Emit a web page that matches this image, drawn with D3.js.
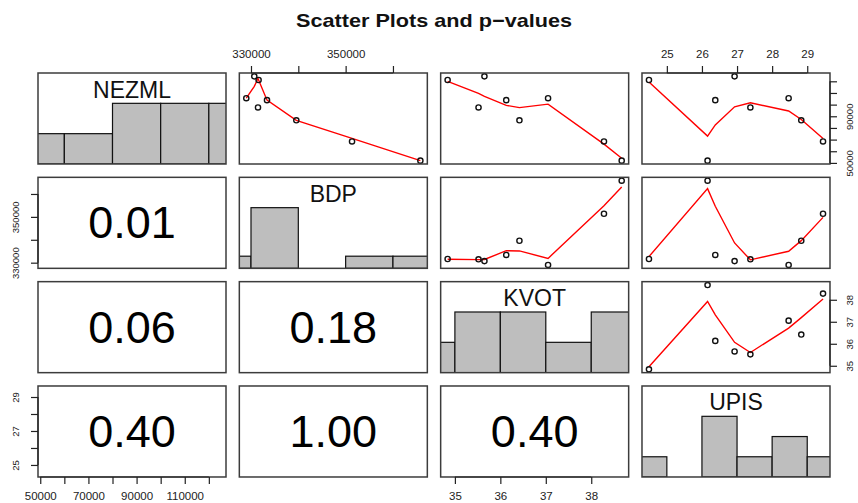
<!DOCTYPE html>
<html><head><meta charset="utf-8">
<script src="https://cdn.jsdelivr.net/npm/d3@7"></script>
<style>body{margin:0;background:#fff}svg{display:block}</style>
</head><body><svg id="c" width="858" height="503"></svg>
<script>
// ---------------- data ----------------
const varNames = ["NEZML", "BDP", "KVOT", "UPIS"];
const NEZML = [121117, 124235, 97594, 103827, 86539, 105527, 68393, 51956];
const BDP   = [331607, 330698, 331480, 333383, 339577, 329006, 351353, 365793];
const KVOT  = [34.84, 35.65, 35.52, 36.13, 36.42, 37.05, 38.28, 38.67];
const UPIS  = [24.49, 26.93, 27.38, 26.38, 28.83, 28.47, 29.45, 26.16];
// p-values shown in the lower panels: pLower[row-1][col] for rows 2..4
const pLower = [["0.01"], ["0.06", "0.18"], ["0.40", "1.00", "0.40"]];
// histogram breaks
const NEZML_breaks = [40000, 60000, 80000, 100000, 120000, 140000];
const BDP_breaks   = [320000, 330000, 340000, 350000, 360000, 370000];
const KVOT_breaks  = [34, 35, 36, 37, 38, 39];
const UPIS_breaks  = [24, 25, 26, 27, 28, 29, 30];
// axis ticks and labelled ticks
const NEZML_ticks = [50000, 60000, 70000, 80000, 90000, 100000, 110000, 120000];
const NEZML_labels_bottom = [50000, 70000, 90000, 110000];
const NEZML_labels_right = [50000, 90000];
const BDP_ticks = [330000, 340000, 350000, 360000];
const BDP_labels = [330000, 350000];
const KVOT_ticks = [35, 36, 37, 38];
const KVOT_labels = [35, 36, 37, 38];
const UPIS_ticks = [25, 26, 27, 28, 29];
const UPIS_labels_top = [25, 26, 27, 28, 29];
const UPIS_labels_left = [25, 27, 29];
const titleText = "Scatter Plots and p\u2212values";

// ---------------- layout ----------------
const svg = d3.select("#c");
const n = 4;
const L0 = 38, colStep = 201.33, PW = 188;
const T0 = 73, rowStep = 104.33, PH = 91;
const data = [NEZML, BDP, KVOT, UPIS];
const breaks = [NEZML_breaks, BDP_breaks, KVOT_breaks, UPIS_breaks];
const FONT = "Liberation Sans, Arial, Helvetica, sans-serif";

function ext(v) {
  const mn = d3.min(v), mx = d3.max(v), r = mx - mn;
  return [mn - 0.04 * r, mx + 0.04 * r];
}
const xScales = data.map((v, j) => d3.scaleLinear().domain(ext(v)).range([L0 + j * colStep, L0 + j * colStep + PW]));
const yScales = data.map((v, i) => d3.scaleLinear().domain(ext(v)).range([T0 + i * rowStep + PH, T0 + i * rowStep]));

// ---------------- R's lowess (panel.smooth) ----------------
function lowess(xin, yin, f = 2 / 3, nsteps = 3) {
  const o = d3.range(xin.length).sort((a, b) => xin[a] - xin[b]);
  const x = o.map(k => xin[k]), y = o.map(k => yin[k]);
  const N = x.length;
  const delta = 0.01 * (x[N - 1] - x[0]);
  const ys = new Array(N).fill(0), rw = new Array(N).fill(1), res = new Array(N).fill(0);
  const ns = Math.max(2, Math.min(N, Math.floor(f * N + 1e-7)));
  function lowest(xs, nleft, nright, userw) {
    const range = x[N - 1] - x[0];
    const h = Math.max(xs - x[nleft], x[nright] - xs);
    const h9 = 0.999 * h, h1 = 0.001 * h;
    const w = new Array(N).fill(0);
    let a = 0, j = nleft;
    while (j < N) {
      w[j] = 0;
      const r = Math.abs(x[j] - xs);
      if (r <= h9) {
        if (r <= h1) w[j] = 1;
        else { const q = r / h; const t = 1 - q * q * q; w[j] = t * t * t; }
        if (userw) w[j] *= rw[j];
        a += w[j];
      } else if (x[j] > xs) break;
      j++;
    }
    const nrt = j - 1;
    if (a <= 0) return null;
    for (j = nleft; j <= nrt; j++) w[j] /= a;
    if (h > 0) {
      a = 0;
      for (j = nleft; j <= nrt; j++) a += w[j] * x[j];
      let b = xs - a, c = 0;
      for (j = nleft; j <= nrt; j++) c += w[j] * (x[j] - a) * (x[j] - a);
      if (Math.sqrt(c) > 0.001 * range) {
        b /= c;
        for (j = nleft; j <= nrt; j++) w[j] *= (b * (x[j] - a) + 1);
      }
    }
    let s = 0;
    for (j = nleft; j <= nrt; j++) s += w[j] * y[j];
    return s;
  }
  let iter = 1;
  while (iter <= nsteps + 1) {
    let nleft = 0, nright = ns - 1, last = -1, i = 0;
    for (;;) {
      if (nright < N - 1) {
        const d1 = x[i] - x[nleft], d2 = x[nright + 1] - x[i];
        if (d1 > d2) { nleft++; nright++; continue; }
      }
      const v = lowest(x[i], nleft, nright, iter > 1);
      ys[i] = v === null ? y[i] : v;
      if (last < i - 1) {
        const denom = x[i] - x[last];
        for (let j = last + 1; j < i; j++) {
          const alpha = (x[j] - x[last]) / denom;
          ys[j] = alpha * ys[i] + (1 - alpha) * ys[last];
        }
      }
      last = i;
      const cut = x[last] + delta;
      for (i = last + 1; i < N; i++) {
        if (x[i] > cut) break;
        if (x[i] === x[last]) { ys[i] = ys[last]; last = i; }
      }
      i = Math.max(last + 1, i - 1);
      if (last >= N - 1) break;
    }
    for (let k = 0; k < N; k++) res[k] = y[k] - ys[k];
    let sc = 0;
    for (let k = 0; k < N; k++) sc += Math.abs(res[k]);
    sc /= N;
    if (iter > nsteps) break;
    const sorted = res.map(Math.abs).sort((a, b) => a - b);
    const m1 = Math.floor(N / 2);
    const cmad = N % 2 === 0 ? 3 * (sorted[m1] + sorted[N - m1 - 1]) : 6 * sorted[m1];
    if (cmad < 1e-7 * sc) break;
    const c9 = 0.999 * cmad, c1 = 0.001 * cmad;
    for (let k = 0; k < N; k++) {
      const r = Math.abs(res[k]);
      if (r <= c1) rw[k] = 1;
      else if (r <= c9) { const q = r / cmad; rw[k] = (1 - q * q) * (1 - q * q); }
      else rw[k] = 0;
    }
    iter++;
  }
  return x.map((xx, k) => [xx, ys[k]]);
}

// ---------------- drawing ----------------
const defs = svg.append("defs");
const boxColor = "#3c3c3c";

for (let i = 0; i < n; i++) {
  for (let j = 0; j < n; j++) {
    const x0 = L0 + j * colStep, y0 = T0 + i * rowStep;
    const id = `clip${i}${j}`;
    defs.append("clipPath").attr("id", id).append("rect")
      .attr("x", x0).attr("y", y0).attr("width", PW).attr("height", PH);
    const g = svg.append("g");
    const gc = g.append("g").attr("clip-path", `url(#${id})`);
    if (i === j) {
      const v = data[i], br = breaks[i];
      const counts = br.slice(0, -1).map((a, k) => v.filter(d => (k === 0 ? d >= a : d > a) && d <= br[k + 1]).length);
      const mxc = d3.max(counts);
      const hy = d3.scaleLinear().domain([0, 1.5]).range([y0 + PH, y0]);
      const xs = xScales[i];
      gc.selectAll("rect.bar").data(counts).join("rect")
        .attr("x", (c, k) => xs(br[k]))
        .attr("width", (c, k) => xs(br[k + 1]) - xs(br[k]))
        .attr("y", c => hy(c / mxc))
        .attr("height", c => hy(0) - hy(c / mxc))
        .attr("fill", "#bebebe").attr("stroke", "#111").attr("stroke-width", 1.2);
      g.append("text").attr("x", x0 + PW / 2).attr("y", y0 + 16.5)
        .attr("text-anchor", "middle").attr("dominant-baseline", "central")
        .attr("font-family", FONT).attr("font-size", 23)
        .attr("fill", "#111").text(varNames[i]);
    } else if (j > i) {
      const xs = xScales[j], ysc = yScales[i];
      const pts = data[j].map((d, k) => [d, data[i][k]]);
      const sm = lowess(data[j], data[i]);
      gc.append("path").attr("d", d3.line().x(d => xs(d[0])).y(d => ysc(d[1]))(sm))
        .attr("fill", "none").attr("stroke", "#ff0000").attr("stroke-width", 1.4);
      g.selectAll("circle").data(pts).join("circle")
        .attr("cx", d => xs(d[0])).attr("cy", d => ysc(d[1])).attr("r", 2.6)
        .attr("fill", "none").attr("stroke", "#111").attr("stroke-width", 1.4);
    } else {
      g.append("text").attr("x", x0 + PW / 2).attr("y", y0 + PH / 2)
        .attr("text-anchor", "middle").attr("dominant-baseline", "central")
        .attr("font-family", FONT).attr("font-size", 45)
        .attr("fill", "#000").text(pLower[i - 1][j]);
    }
    g.append("rect").attr("x", x0).attr("y", y0).attr("width", PW).attr("height", PH)
      .attr("fill", "none").attr("stroke", boxColor).attr("stroke-width", 1.5);
  }
}

// ---------------- axes ----------------
function styleAxis(sel, size) {
  sel.select(".domain").attr("stroke", "#222").attr("stroke-width", 1.2);
  sel.selectAll(".tick line").attr("stroke", "#222").attr("stroke-width", 1.2);
  sel.selectAll(".tick text").attr("font-family", FONT).attr("font-size", size).attr("fill", "#222");
}
function fmt(labels) { return d => labels.includes(d) ? String(d) : ""; }
function trimDomain(sel, scale, ticks, vertical) {
  const a = scale(ticks[0]), b = scale(ticks[ticks.length - 1]);
  sel.select(".domain").attr("d", vertical ? `M0,${a}V${b}` : `M${a},0H${b}`);
}
[[1, BDP_ticks, BDP_labels], [3, UPIS_ticks, UPIS_labels_top]].forEach(([j, t, lab]) => {
  const ax = svg.append("g").attr("transform", `translate(0,${T0})`)
    .call(d3.axisTop(xScales[j]).tickValues(t).tickFormat(fmt(lab)).tickSizeInner(7).tickSizeOuter(0).tickPadding(8));
  styleAxis(ax, 11.5); trimDomain(ax, xScales[j], t, false);
});
[[0, NEZML_ticks, NEZML_labels_bottom], [2, KVOT_ticks, KVOT_labels]].forEach(([j, t, lab]) => {
  const ax = svg.append("g").attr("transform", `translate(0,${T0 + 3 * rowStep + PH})`)
    .call(d3.axisBottom(xScales[j]).tickValues(t).tickFormat(fmt(lab)).tickSizeInner(7).tickSizeOuter(0).tickPadding(8));
  styleAxis(ax, 11.5); trimDomain(ax, xScales[j], t, false);
});
[[1, BDP_ticks, BDP_labels], [3, UPIS_ticks, UPIS_labels_left]].forEach(([i, t, lab]) => {
  const ax = svg.append("g").attr("transform", `translate(${L0},0)`)
    .call(d3.axisLeft(yScales[i]).tickValues(t).tickFormat(fmt(lab)).tickSizeInner(7).tickSizeOuter(0));
  styleAxis(ax, 9.5); trimDomain(ax, yScales[i], t, true);
  ax.selectAll(".tick text").attr("x", null).attr("dy", null)
    .attr("text-anchor", "middle").attr("dominant-baseline", "central")
    .attr("transform", `translate(-23,0) rotate(-90)`);
});
[[0, NEZML_ticks, NEZML_labels_right], [2, KVOT_ticks, KVOT_labels]].forEach(([i, t, lab]) => {
  const ax = svg.append("g").attr("transform", `translate(${L0 + 3 * colStep + PW},0)`)
    .call(d3.axisRight(yScales[i]).tickValues(t).tickFormat(fmt(lab)).tickSizeInner(7).tickSizeOuter(0));
  styleAxis(ax, 9.5); trimDomain(ax, yScales[i], t, true);
  ax.selectAll(".tick text").attr("x", null).attr("dy", null)
    .attr("text-anchor", "middle").attr("dominant-baseline", "central")
    .attr("transform", `translate(20,0) rotate(-90)`);
});

// title
svg.append("text").attr("x", 434).attr("y", 20).attr("text-anchor", "middle")
  .attr("dominant-baseline", "central")
  .attr("font-family", FONT).attr("font-weight", "bold")
  .attr("font-size", 19).attr("textLength", 276).attr("lengthAdjust", "spacingAndGlyphs")
  .attr("fill", "#111").text(titleText);
</script>
</body></html>
